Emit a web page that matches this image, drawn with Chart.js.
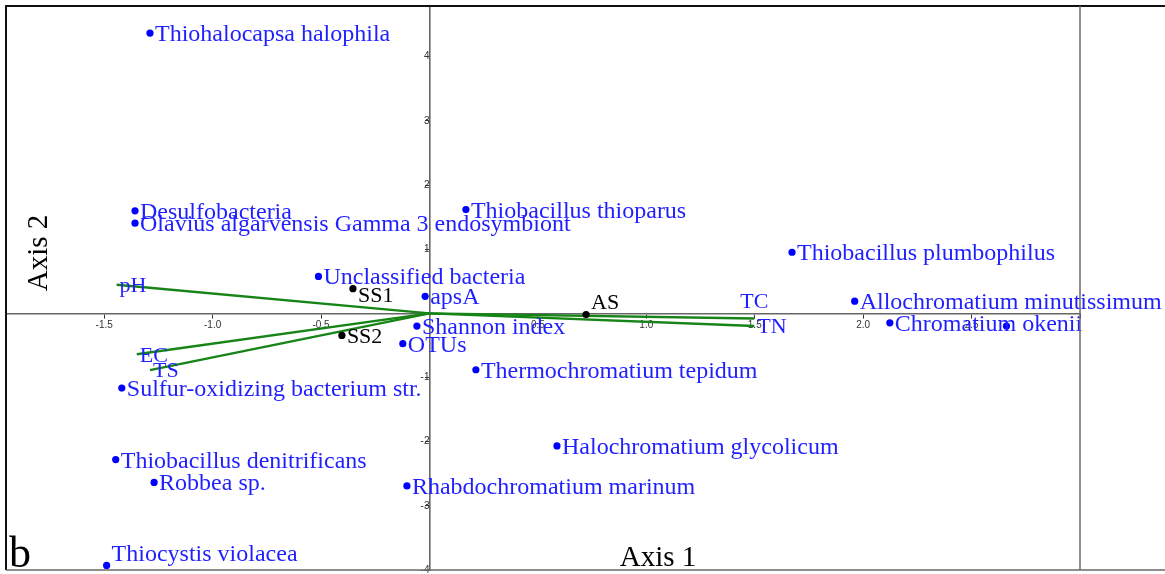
<!DOCTYPE html>
<html>
<head>
<meta charset="utf-8">
<script src="https://cdn.jsdelivr.net/npm/chart.js@4.4.1/dist/chart.umd.min.js"></script>
<style>
  html, body { margin: 0; padding: 0; background: #fff; }
  #wrap { width: 1165px; height: 574px; }
</style>
</head>
<body>
<div id="wrap"><canvas id="biplot" width="1165" height="574"></canvas></div>
<script>
// species scores (blue)
const speciesNames = [
    "Thiohalocapsa halophila", "Desulfobacteria", "Olavius algarvensis Gamma 3 endosymbiont",
    "Thiobacillus thioparus", "Thiobacillus plumbophilus", "Allochromatium minutissimum",
    "Chromatium okenii", "", "Unclassified bacteria", "apsA", "Shannon index", "OTUs",
    "Thermochromatium tepidum", "Sulfur-oxidizing bacterium str.", "Halochromatium glycolicum",
    "Thiobacillus denitrificans", "Robbea sp.", "Rhabdochromatium marinum", "Thiocystis violacea"
];
const speciesX = [-1.289, -1.358, -1.358, 0.168, 1.672, 1.961, 2.123, 2.661, -0.512, -0.020,
    -0.058, -0.123, 0.214, -1.419, 0.588, -1.447, -1.270, -0.104, -1.489];
const speciesY = [4.368, 1.598, 1.406, 1.618, 0.952, 0.189, -0.147, -0.198, 0.576, 0.266,
    -0.198, -0.472, -0.879, -1.164, -2.067, -2.279, -2.635, -2.690, -3.929];

// sample scores (black)
const sampleNames = ["SS1", "SS2", "AS"];
const sampleX = [-0.353, -0.404, 0.722];
const sampleY = [0.384, -0.344, -0.019];

// environmental vectors (green)
const vectorNames = ["pH", "EC", "TS", "TN", "TC"];
const vectorX = [-1.443, -1.350, -1.289, 1.498, 1.498];
const vectorY = [0.446, -0.638, -0.885, -0.198, -0.080];

const toPoints = (xs, ys) => xs.map((x, i) => ({x: x, y: ys[i]}));

const BLUE = "#1f1fff";
const GREEN = "#168416";
const SERIF = '"Liberation Serif", "Times New Roman", serif';

const datasets = [{
    label: "species",
    data: toPoints(speciesX, speciesY),
    backgroundColor: "#0000ff",
    borderWidth: 0,
    pointRadius: 3.6
}, {
    label: "samples",
    data: toPoints(sampleX, sampleY),
    backgroundColor: "#000",
    borderWidth: 0,
    pointRadius: 3.6
}];
vectorNames.forEach((name, i) => {
    datasets.push({
        label: name,
        data: [{x: 0, y: 0}, {x: vectorX[i], y: vectorY[i]}],
        showLine: true,
        borderColor: GREEN,
        borderWidth: 2.4,
        pointRadius: 0
    });
});

const overlaps = (a, b) => a.x1 < b.x2 && b.x1 < a.x2 && a.y1 < b.y2 && b.y1 < a.y2;

const labelPlugin = {
    id: "biplotLabels",
    afterDatasetsDraw(chart) {
        const {ctx, chartArea, scales} = chart;
        const axisY = scales.y.getPixelForValue(0);
        const placed = [];
        ctx.save();
        ctx.textBaseline = "alphabetic";
        ctx.textAlign = "left";

        // species labels
        ctx.font = "24px " + SERIF;
        ctx.fillStyle = BLUE;
        chart.getDatasetMeta(0).data.forEach((pt, i) => {
            const name = speciesNames[i];
            if (!name) return;
            const left = pt.x + 5;
            const base = Math.min(pt.y + 8, chartArea.bottom - 9);
            ctx.fillText(name, left, base);
            placed.push({x1: left, x2: left + ctx.measureText(name).width, y1: base - 16, y2: base});
        });

        // sample labels
        ctx.font = "22px " + SERIF;
        ctx.fillStyle = "#000";
        const cap = 14.6;
        chart.getDatasetMeta(1).data.forEach((pt, i) => {
            const name = sampleNames[i];
            const left = pt.x + 5;
            const w = ctx.measureText(name).width;
            let base = pt.y + cap / 2;
            if (base - cap < axisY && axisY < base) {
                base = axisY - 4;
            } else {
                const box = {x1: left, x2: left + w, y1: base - cap, y2: base};
                const hit = placed.find(b => overlaps(box, b));
                if (hit) base = hit.y2 + 3 + cap;
            }
            ctx.fillText(name, left, base);
            placed.push({x1: left, x2: left + w, y1: base - cap, y2: base});
        });

        // vector labels
        ctx.fillStyle = BLUE;
        const vplaced = [];
        vectorNames.forEach((name, i) => {
            const end = chart.getDatasetMeta(2 + i).data[1];
            const w = ctx.measureText(name).width;
            let left = end.x + 3;
            let base = end.y + cap / 2;
            const box = {x1: left, x2: left + w, y1: base - cap, y2: base};
            if (vplaced.some(b => overlaps(box, b))) {
                left = end.x - w / 2;
                base = end.y - 10;
            }
            ctx.fillText(name, left, base);
            vplaced.push({x1: left, x2: left + w, y1: base - cap, y2: base});
        });
        ctx.restore();
    },
    afterDraw(chart) {
        const {ctx, chartArea} = chart;
        ctx.save();
        // frame
        ctx.strokeStyle = "#111";
        ctx.lineWidth = 2;
        ctx.beginPath();
        ctx.moveTo(chartArea.left, chartArea.bottom);
        ctx.lineTo(chartArea.left, chartArea.top);
        ctx.lineTo(chart.width, chartArea.top);
        ctx.stroke();
        ctx.strokeStyle = "#6a6a6a";
        ctx.lineWidth = 1.5;
        ctx.beginPath();
        ctx.moveTo(chartArea.left, chartArea.bottom);
        ctx.lineTo(chart.width, chartArea.bottom);
        ctx.moveTo(chartArea.right, chartArea.top);
        ctx.lineTo(chartArea.right, chartArea.bottom);
        ctx.stroke();

        // axis titles and panel letter
        ctx.fillStyle = "#000";
        ctx.textBaseline = "alphabetic";
        ctx.font = "29px " + SERIF;
        ctx.textAlign = "center";
        ctx.fillText("Axis 1", 658, 566);
        ctx.save();
        ctx.translate(46.5, 253);
        ctx.rotate(-Math.PI / 2);
        ctx.fillText("Axis 2", 0, 0);
        ctx.restore();
        ctx.textAlign = "left";
        ctx.font = "44px " + SERIF;
        ctx.fillText("b", 9, 567);
        ctx.restore();
    }
};

const noPadding = s => { s.paddingLeft = 0; s.paddingRight = 0; s.paddingTop = 0; s.paddingBottom = 0; };
const tickFont = {size: 10, family: '"Liberation Sans", Arial, sans-serif'};

var ctx = document.getElementById("biplot");
var config = {
    type: "scatter",
    data: {datasets: datasets},
    plugins: [labelPlugin],
    options: {
        responsive: false,
        animation: false,
        devicePixelRatio: 1,
        layout: {
            padding: {left: 6, top: 6, right: 85, bottom: 1}
        },
        plugins: {
            legend: {display: false},
            tooltip: {enabled: false}
        },
        scales: {
            x: {
                type: "linear",
                min: -1.953,
                max: 3.0,
                position: {y: 0},
                afterFit: noPadding,
                grid: {drawOnChartArea: false, drawTicks: true, tickLength: 4, color: "#333"},
                border: {display: true, color: "#666", width: 1.6},
                ticks: {
                    stepSize: 0.5,
                    includeBounds: false,
                    padding: 2,
                    font: tickFont,
                    color: "#333",
                    callback: v => (v === 0 || v >= 3) ? "" : v.toFixed(1)
                }
            },
            y: {
                type: "linear",
                min: -4,
                max: 4.79,
                position: {x: 0},
                afterFit: noPadding,
                grid: {drawOnChartArea: false, drawTicks: true, tickLength: 4, color: "#333"},
                border: {display: true, color: "#666", width: 1.6},
                ticks: {
                    stepSize: 1,
                    includeBounds: false,
                    padding: 2,
                    font: tickFont,
                    color: "#333",
                    callback: v => v === 0 ? "" : v
                }
            }
        }
    }
};
var myChart = new Chart(ctx, config);
</script>
</body>
</html>
